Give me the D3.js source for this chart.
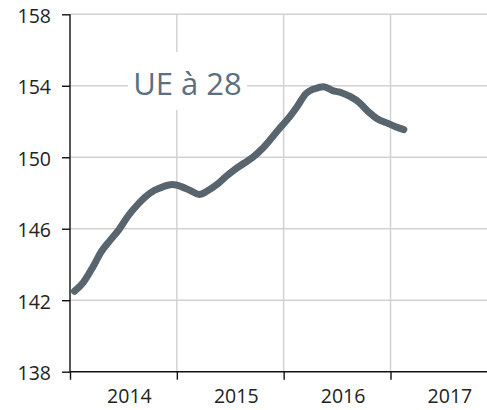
<!DOCTYPE html>
<html>
<head>
<meta charset="utf-8">
<script src="https://cdn.jsdelivr.net/npm/d3@7"></script>
<style>
  html, body { margin: 0; padding: 0; background: #fff; }
  svg { display: block; }
  text { font-family: "Open Sans", "Noto Sans", sans-serif; }
</style>
</head>
<body>
<svg id="chart" width="487" height="410"></svg>
<script>
// ---- data (monthly index, starting January 2014) ----
const startYear = 2014;
const values = [
  142.5, 143.0, 143.8, 144.7, 145.35, 145.95, 146.7, 147.3, 147.8, 148.15, 148.36, 148.47,
  148.36, 148.14, 147.92, 148.14, 148.47, 148.92, 149.31, 149.65, 149.98, 150.43, 150.99, 151.6,
  152.16, 152.83, 153.56, 153.84, 153.95, 153.73, 153.61, 153.39, 153.06, 152.55, 152.16, 151.94,
  151.72, 151.55
];
const yearLabels = ["2014", "2015", "2016", "2017"];
const yTicks = [138, 142, 146, 150, 154, 158];
const seriesLabel = "UE à 28";

// ---- layout ----
const svg = d3.select("#chart");
const mLeft = 70, mRight = 487, mTop = 14.3, mBottom = 371.7;

const x = d3.scaleLinear().domain([2014, 2017]).range([mLeft, 390.5]);
const y = d3.scaleLinear().domain([138, 158]).range([mBottom, mTop]);

const pts = values.map((v, i) => ({ t: startYear + (i + 0.5) / 12, v }));

// gridlines horizontal
svg.append("g").selectAll("line").data(yTicks.filter(d => d !== 138)).join("line")
  .attr("x1", mLeft).attr("x2", mRight)
  .attr("y1", d => y(d)).attr("y2", d => y(d))
  .attr("stroke", "#d2d2d2").attr("stroke-width", 1.5);

// gridlines vertical (year boundaries)
const boundaries = [2015, 2016, 2017];
svg.append("g").selectAll("line").data(boundaries).join("line")
  .attr("x1", d => x(d)).attr("x2", d => x(d))
  .attr("y1", mTop).attr("y2", mBottom)
  .attr("stroke", "#d2d2d2").attr("stroke-width", 1.5);

// series label with white background
const lbl = svg.append("g");
lbl.append("rect")
  .attr("x", 128).attr("y", 52).attr("width", 119).attr("height", 58)
  .attr("fill", "#fff");
lbl.append("text")
  .attr("x", 187.5).attr("y", 95)
  .attr("text-anchor", "middle")
  .attr("font-size", 31)
  .attr("fill", "#5a6f82")
  .text(seriesLabel);

// y axis
const yAxis = svg.append("g").attr("transform", `translate(${mLeft},0)`)
  .call(d3.axisLeft(y).tickValues(yTicks).tickSize(8).tickPadding(11).tickFormat(d3.format("d")));
yAxis.select(".domain").attr("stroke", "#111").attr("stroke-width", 1.4).attr("d", `M0,${mTop}V${mBottom}`);
yAxis.selectAll(".tick line").attr("stroke", "#111").attr("stroke-width", 1.4);
yAxis.selectAll(".tick text").attr("font-size", 19.5).attr("fill", "#222")
  .attr("font-family", "'Open Sans', 'Noto Sans', sans-serif").attr("dy", "0.4em");

// x axis
const xAxis = svg.append("g").attr("transform", `translate(0,${mBottom})`)
  .call(d3.axisBottom(x).tickValues([2014, 2015, 2016, 2017]).tickSize(8).tickFormat(""));
xAxis.select(".domain").attr("stroke", "#111").attr("stroke-width", 1.4).attr("d", `M${mLeft},0H${mRight}`);
xAxis.selectAll(".tick line").attr("stroke", "#111").attr("stroke-width", 1.4);

svg.append("g").selectAll("text").data(yearLabels).join("text")
  .attr("x", d => x(+d + 0.5) + 6)
  .attr("y", 403)
  .attr("text-anchor", "middle")
  .attr("font-size", 19.5)
  .attr("fill", "#222")
  .text(d => d);

// line
const line = d3.line().x(d => x(d.t)).y(d => y(d.v)).curve(d3.curveMonotoneX);
svg.append("path").datum(pts)
  .attr("d", line)
  .attr("fill", "none")
  .attr("stroke", "#59656e")
  .attr("stroke-width", 7)
  .attr("stroke-linecap", "round")
  .attr("stroke-linejoin", "round");
</script>
</body>
</html>
